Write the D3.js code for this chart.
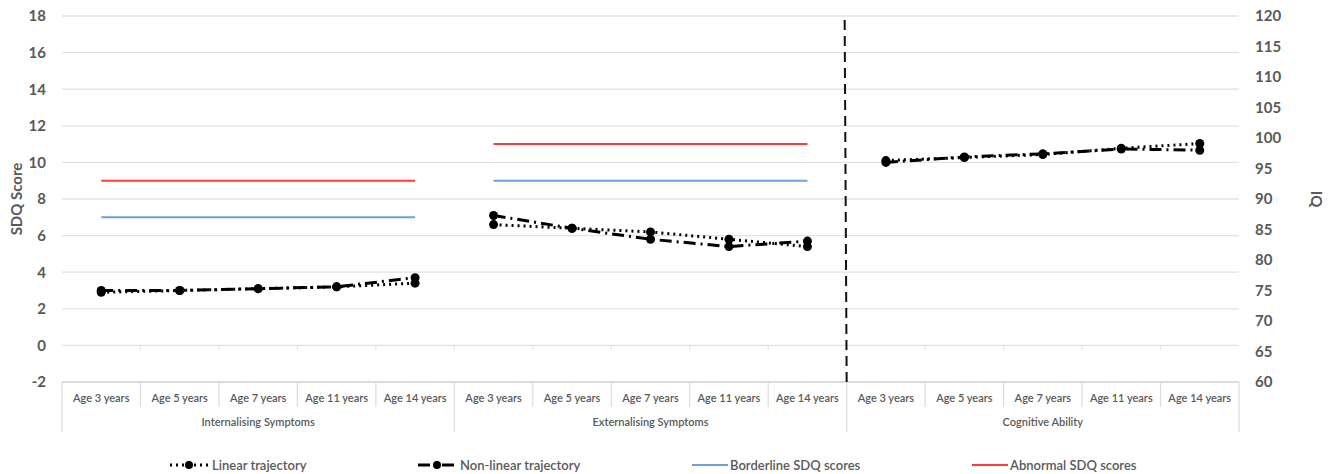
<!DOCTYPE html>
<html>
<head>
<meta charset="utf-8">
<script src="https://cdn.jsdelivr.net/npm/d3@7"></script>
<style>
  body { margin: 0; background: #fff; }
  text { font-family: Lato, "Open Sans", sans-serif; fill: #595959; }
</style>
</head>
<body>
<svg id="chart" width="1333" height="474"></svg>
<script>
// Chart data
const groups = ["Internalising Symptoms", "Externalising Symptoms", "Cognitive Ability"];
const ages = ["Age 3 years", "Age 5 years", "Age 7 years", "Age 11 years", "Age 14 years"];

// SDQ scores (left axis)
const linearInternalising = [2.9, 3.0, 3.1, 3.2, 3.4];
const nonLinearInternalising = [3.0, 3.0, 3.1, 3.2, 3.7];
const linearExternalising = [6.6, 6.4, 6.2, 5.8, 5.4];
const nonLinearExternalising = [7.1, 6.4, 5.8, 5.4, 5.7];
// IQ (right axis)
const linearCognitive = [96.3, 96.8, 97.3, 98.3, 99.1];
const nonLinearCognitive = [96.0, 96.9, 97.4, 98.2, 98.0];

// Clinical cut-offs per SDQ group
const borderlineScores = [7, 9];
const abnormalScores = [9, 11];

const leftTicks = [-2, 0, 2, 4, 6, 8, 10, 12, 14, 16, 18];
const rightTicks = [60, 65, 70, 75, 80, 85, 90, 95, 100, 105, 110, 115, 120];

const legendItems = ["Linear trajectory", "Non-linear trajectory", "Borderline SDQ scores", "Abnormal SDQ scores"];

// Dimensions
const margin = {top: 16, right: 94, bottom: 92, left: 62};
const width = 1333, height = 474;
const plotBottom = height - margin.bottom;

const svg = d3.select("#chart");

// Scales
const categories = [];
groups.forEach(g => ages.forEach(a => categories.push(g + "|" + a)));

const x = d3.scaleBand()
  .domain(categories)
  .range([margin.left, width - margin.right])
  .padding(0);

const yLeft = d3.scaleLinear().domain([-2, 18]).range([plotBottom, margin.top]);
const yRight = d3.scaleLinear().domain([60, 120]).range([plotBottom, margin.top]);

const cx = (g, i) => x(groups[g] + "|" + ages[i]) + x.bandwidth() / 2;

// Grid lines
svg.append("g")
  .selectAll("line")
  .data(leftTicks)
  .enter()
  .append("line")
  .attr("x1", margin.left)
  .attr("x2", width - margin.right)
  .attr("y1", d => yLeft(d))
  .attr("y2", d => yLeft(d))
  .attr("stroke", d => d === -2 ? "#cfcfcf" : "#e2e2e2")
  .attr("stroke-width", 1.3);

// Small ticks on the zero line at category boundaries
svg.append("g")
  .selectAll("line")
  .data(categories.slice(1))
  .enter()
  .append("line")
  .attr("x1", d => x(d))
  .attr("x2", d => x(d))
  .attr("y1", yLeft(0))
  .attr("y2", yLeft(0) + 5)
  .attr("stroke", "#e6e6e6")
  .attr("stroke-width", 1.2);

// Category separators below the plot
svg.append("g")
  .selectAll("line")
  .data(categories.concat(["end"]))
  .enter()
  .append("line")
  .each(function(d, i) {
    const xPos = d === "end" ? width - margin.right : x(d);
    const groupEdge = i % ages.length === 0;
    d3.select(this)
      .attr("x1", xPos).attr("x2", xPos)
      .attr("y1", plotBottom)
      .attr("y2", groupEdge ? plotBottom + 50 : plotBottom + 25)
      .attr("stroke", "#dcdcdc")
      .attr("stroke-width", 1.2);
  });

// Age labels
svg.append("g")
  .selectAll("text")
  .data(categories)
  .enter()
  .append("text")
  .attr("x", d => x(d) + x.bandwidth() / 2)
  .attr("y", plotBottom + 20)
  .attr("text-anchor", "middle")
  .attr("font-size", "11px")
  .attr("font-weight", 600)
  .text(d => d.split("|")[1]);

// Group labels
svg.append("g")
  .selectAll("text")
  .data(groups)
  .enter()
  .append("text")
  .attr("x", (d, g) => (x(d + "|" + ages[0]) + x(d + "|" + ages[ages.length - 1]) + x.bandwidth()) / 2)
  .attr("y", plotBottom + 44)
  .attr("text-anchor", "middle")
  .attr("font-size", "11px")
  .attr("font-weight", 600)
  .text(d => d);

// Left axis
svg.append("g")
  .attr("transform", `translate(${margin.left - 16},0)`)
  .call(d3.axisLeft(yLeft).tickValues(leftTicks).tickFormat(d => String(d)).tickSize(0).tickPadding(0))
  .call(g => g.select(".domain").remove())
  .selectAll("text")
  .attr("font-size", "15px")
  .attr("font-weight", 700)
  .attr("font-family", "Lato, sans-serif")
  .attr("fill", "#595959");

// Right axis
svg.append("g")
  .attr("transform", `translate(${width - margin.right + 16},0)`)
  .call(d3.axisRight(yRight).tickValues(rightTicks).tickFormat(d => String(d)).tickSize(0).tickPadding(0))
  .call(g => g.select(".domain").remove())
  .selectAll("text")
  .attr("font-size", "15px")
  .attr("font-weight", 700)
  .attr("font-family", "Lato, sans-serif")
  .attr("fill", "#595959");

// Axis titles
svg.append("text")
  .attr("transform", `translate(22,${(margin.top + plotBottom) / 2}) rotate(-90)`)
  .attr("text-anchor", "middle")
  .attr("font-size", "15px")
  .attr("font-weight", 700)
  .text("SDQ Score");

svg.append("text")
  .attr("transform", `translate(1311,${(margin.top + plotBottom) / 2}) rotate(90)`)
  .attr("text-anchor", "middle")
  .attr("font-size", "15px")
  .attr("font-weight", 700)
  .text("IQ");

// Cut-off lines for the two SDQ groups
[0, 1].forEach(g => {
  const x1 = cx(g, 0), x2 = cx(g, ages.length - 1);
  svg.append("line")
    .attr("x1", x1).attr("x2", x2)
    .attr("y1", yLeft(borderlineScores[g])).attr("y2", yLeft(borderlineScores[g]))
    .attr("stroke", "#6fa0dc")
    .attr("stroke-width", 2);
  svg.append("line")
    .attr("x1", x1).attr("x2", x2)
    .attr("y1", yLeft(abnormalScores[g])).attr("y2", yLeft(abnormalScores[g]))
    .attr("stroke", "#ff3b3b")
    .attr("stroke-width", 2);
});

// Vertical dashed divider between SDQ and IQ sections
const dividerX = x(groups[2] + "|" + ages[0]);
svg.append("line")
  .attr("x1", dividerX - 2).attr("x2", dividerX)
  .attr("y1", margin.top + 4).attr("y2", plotBottom)
  .attr("stroke", "#111")
  .attr("stroke-width", 2)
  .attr("stroke-dasharray", "10,6");

// Trajectory lines
const linearDash = "2,4";
const nonLinearDash = "12,5,2,5";

function drawTrajectory(values, g, scale, dash) {
  const line = d3.line()
    .x((d, i) => cx(g, i))
    .y(d => scale(d));

  svg.append("path")
    .datum(values)
    .attr("fill", "none")
    .attr("stroke", "#000")
    .attr("stroke-width", 3)
    .attr("stroke-dasharray", dash)
    .attr("d", line);

  svg.append("g")
    .selectAll("circle")
    .data(values)
    .enter()
    .append("circle")
    .attr("cx", (d, i) => cx(g, i))
    .attr("cy", d => scale(d))
    .attr("r", 4.5)
    .attr("fill", "#000");
}

drawTrajectory(linearInternalising, 0, yLeft, linearDash);
drawTrajectory(nonLinearInternalising, 0, yLeft, nonLinearDash);
drawTrajectory(linearExternalising, 1, yLeft, linearDash);
drawTrajectory(nonLinearExternalising, 1, yLeft, nonLinearDash);
drawTrajectory(linearCognitive, 2, yRight, linearDash);
drawTrajectory(nonLinearCognitive, 2, yRight, nonLinearDash);

// Legend
const legendY = 465;
const legendX = [170, 418, 692, 972];
const legend = svg.append("g");

legendItems.forEach((label, i) => {
  const lx = legendX[i];
  if (i < 2) {
    legend.append("line")
      .attr("x1", lx).attr("x2", lx + 38)
      .attr("y1", legendY).attr("y2", legendY)
      .attr("stroke", "#000")
      .attr("stroke-width", 3)
      .attr("stroke-dasharray", i === 0 ? linearDash : nonLinearDash);
    legend.append("circle")
      .attr("cx", lx + 19).attr("cy", legendY)
      .attr("r", 4)
      .attr("fill", "#000");
  } else {
    legend.append("line")
      .attr("x1", lx).attr("x2", lx + 36)
      .attr("y1", legendY).attr("y2", legendY)
      .attr("stroke", i === 2 ? "#6fa0dc" : "#ff3b3b")
      .attr("stroke-width", 2);
  }
  legend.append("text")
    .attr("x", lx + (i < 2 ? 42 : 38))
    .attr("y", legendY + 4.5)
    .attr("font-size", "13px")
    .attr("font-weight", 600)
    .text(label);
});
</script>
</body>
</html>
